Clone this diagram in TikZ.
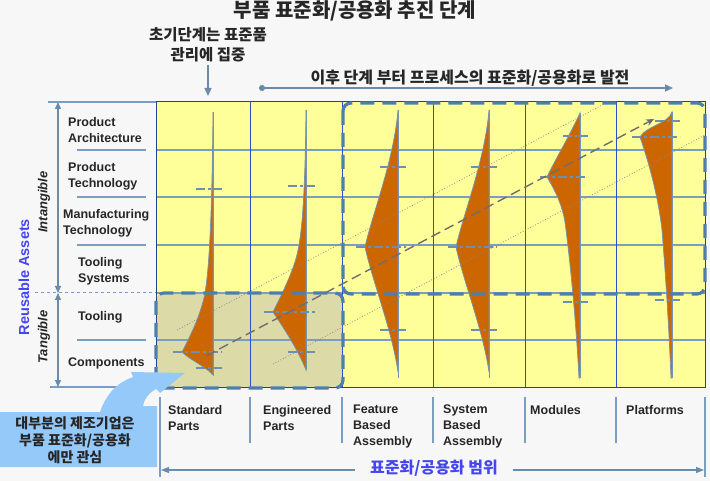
\documentclass[tikz,border=0pt]{standalone}
\usepackage{fontspec}
\setmainfont{Liberation Sans}
\newfontfamily\kr{Noto Sans CJK KR}
\usetikzlibrary{arrows.meta}
\definecolor{bg}{HTML}{F7F7F7}
\definecolor{yel}{HTML}{FFFF99}
\definecolor{tanc}{HTML}{DCDBA8}
\definecolor{rowc}{HTML}{7B9DC2}
\definecolor{colc}{HTML}{2E4FCB}
\definecolor{borderc}{HTML}{2B3F8F}
\definecolor{violinc}{HTML}{CC6600}
\definecolor{edgec}{HTML}{7893AD}
\definecolor{tickc}{HTML}{6D8FB0}
\definecolor{framec}{HTML}{4D7EAC}
\definecolor{trendc}{HTML}{6E6E6E}
\definecolor{guidec}{HTML}{8A8A8A}
\definecolor{arrowc}{HTML}{6B8CA8}
\definecolor{callc}{HTML}{94C9FA}
\definecolor{bluetxt}{HTML}{4646F0}
\begin{document}
\begin{tikzpicture}[x=1pt,y=-1pt,
  lbl/.style={font=\bfseries\fontsize{12.5}{16}\selectfont, align=left, inner sep=0pt, text=black!85},
  collbl/.style={lbl, anchor=north west},
  krtxt/.style={inner sep=0pt, text=black!85},
  rowline/.style={draw=rowc, line width=1.3pt},
  colline/.style={draw=colc, line width=0.9pt},
  violin/.style={fill=violinc, draw=edgec, line width=0.7pt},
  spine/.style={draw=edgec, line width=1pt},
  tickmark/.style={draw=tickc, line width=1.1pt, dash pattern=on 9pt off 3pt on 3pt off 3pt},
  frame/.style={draw=framec, line width=3.2pt, dash pattern=on 14pt off 8pt, rounded corners=8pt},
  guide/.style={draw=guidec, line width=0.8pt, dotted},
  trend/.style={draw=trendc, line width=1.4pt, dash pattern=on 10pt off 5pt, -{Stealth[length=8pt,width=7pt]}},
  sep/.style={draw=rowc, line width=1.2pt},
  pointer/.style={draw=arrowc, line width=1.3pt}
]
\useasboundingbox (0,0) rectangle (710,481);
\fill[bg] (0,0) rectangle (710,481);

% main grid
\fill[yel] (156,102) rectangle (705,387);
\fill[tanc, rounded corners=8pt] (156,293) rectangle (343,388);
\foreach \yy in {150,197,245,293,340} \draw[rowline] (156,\yy) -- (705,\yy);
\foreach \xx in {250,342,433,525,616} \draw[colline] (\xx,102) -- (\xx,387);
\draw[draw=borderc, line width=1pt] (156,102) rectangle (705,387);

% left scale lines
\draw[sep] (48,102) -- (156,102);
\draw[sep] (50,387) -- (156,387);
\foreach \yy in {150,197,245,340} \draw[sep] (77,\yy) -- (146,\yy);
\draw[draw=rowc, line width=1pt, dashed] (35,293) -- (156,293);
\coordinate (iA) at (58,102);
\coordinate (iB) at (58,293);
\coordinate (tB) at (58,387);
\draw[pointer, {Triangle[length=7pt,width=6pt]}-{Triangle[length=7pt,width=6pt]}] (iA) -- (iB);
\draw[pointer, {Triangle[length=7pt,width=6pt]}-{Triangle[length=7pt,width=6pt]}] (iB) -- (tB);

% violins
\draw[violin] (213,112) .. controls (212,220) and (209,275) .. (204,298) .. controls (198,322) and (188,340) .. (182,352) .. controls (190,360) and (205,366) .. (213,375) -- cycle;
\draw[spine] (213,112) -- (213,376);
\draw[violin] (306,110) .. controls (305,200) and (302,240) .. (295,262) .. controls (289,280) and (280,298) .. (273,312) .. controls (285,330) and (298,350) .. (306,370) -- cycle;
\draw[spine] (306,110) -- (306,370);
\draw[violin] (398,110) .. controls (394,160) and (372,215) .. (365,247) .. controls (372,280) and (392,330) .. (398,372) -- cycle;
\draw[spine] (398,110) -- (398,378);
\draw[violin] (489,110) .. controls (485,160) and (463,215) .. (456,247) .. controls (463,280) and (483,330) .. (489,372) -- cycle;
\draw[spine] (489,110) -- (489,378);
\draw[violin] (580,113) .. controls (570,135) and (555,160) .. (547,177) .. controls (556,192) and (562,205) .. (565,222) .. controls (570,260) and (576,320) .. (579,378) -- (580,378) -- cycle;
\draw[spine] (580,113) -- (580,378);
\draw[violin] (672,112) .. controls (668,124) and (646,126) .. (640,137) .. controls (648,160) and (658,195) .. (662,230) .. controls (666,280) and (669,330) .. (671,378) -- (672,378) -- cycle;
\draw[spine] (672,112) -- (672,378);

% quartile ticks
\foreach \yy/\xa/\xb in {189/196/222, 352/173/222, 368/196/222,
  186/288/315, 312/264/315, 352/288/315,
  167/380/406, 247/356/406, 330/380/406,
  167/471/497, 247/448/497, 330/471/497,
  136/563/588, 177/540/588, 302/563/588,
  121/655/680, 137/632/680, 300/655/680}
  \draw[tickmark] (\xa,\yy) -- (\xb,\yy);

% guide lines and trend
\coordinate (g1a) at (177,330);
\coordinate (g1b) at (608,102);
\coordinate (g2a) at (273,364);
\coordinate (g2b) at (705,135);
\draw[guide] (g1a) -- (g1b);
\draw[guide] (g2a) -- (g2b);
\coordinate (trA) at (206,356);
\coordinate (trB) at (654,119);
\draw[trend] (trA) -- (trB);

% dashed frames
\draw[frame] (156,293) rectangle (343,388);
\draw[frame] (343,103) rectangle (705,294);

% left labels
\node[lbl, anchor=west] (pa) at (68,130) {Product\\Architecture};
\node[lbl, anchor=west] (pt) at (68,176) {Product\\Technology};
\node[lbl, anchor=west] (mt) at (63,223) {Manufacturing\\Technology};
\node[lbl, anchor=west] (ts) at (78,271) {Tooling\\Systems};
\node[lbl, anchor=west] (tl) at (78,317) {Tooling};
\node[lbl, anchor=west] (cp) at (68,363) {Components};
\node[rotate=90, inner sep=0pt, font=\bfseries\itshape\fontsize{13}{15}\selectfont, text=black!85] (intg) at (44,202) {Intangible};
\node[rotate=90, inner sep=0pt, font=\bfseries\itshape\fontsize{13}{15}\selectfont, text=black!85] (tang) at (44,337) {Tangible};
\node[rotate=90, inner sep=0pt, font=\bfseries\fontsize{14.5}{16}\selectfont, text=bluetxt] (ra) at (24,277) {Reusable Assets};

% column labels
\node[collbl] (c1) at (168,405) {Standard\\Parts};
\node[collbl] (c2) at (263,405) {Engineered\\Parts};
\node[collbl] (c3) at (353,405) {Feature\\Based\\Assembly};
\node[collbl] (c4) at (443,405) {System\\Based\\Assembly};
\node[collbl] (c5) at (530,405) {Modules};
\node[collbl] (c6) at (626,405) {Platforms};
\draw[sep] (160,397) -- (160,477);
\foreach \xx in {250,342,433,525,616} \draw[sep] (\xx,397) -- (\xx,443);
\draw[sep] (705,397) -- (705,477);

% bottom scope arrow
\node[krtxt, font=\kr\bfseries\fontsize{16}{18}\selectfont, text=bluetxt, fill=bg, inner xsep=15pt] (scope) at (434,468) {표준화/공용화 범위};
\coordinate (sL) at (161,470);
\coordinate (sR) at (704,470);
\draw[pointer, -{Triangle[length=8pt,width=6pt]}] (scope.west |- sL) -- (sL);
\draw[pointer, -{Triangle[length=8pt,width=6pt]}] (scope.east |- sR) -- (sR);

% title and top notes
\node[krtxt, font=\kr\bfseries\fontsize{20}{22}\selectfont] (title) at (355,11) {부품 표준화/공용화 추진 단계};
\node[krtxt, align=center, font=\kr\bfseries\fontsize{15.5}{20}\selectfont] (note) at (208,45) {초기단계는 표준품\\관리에 집중};
\coordinate (noteTip) at (208,96);
\draw[pointer, shorten <=3pt, -{Triangle[length=8pt,width=7pt]}] (note.south) -- (noteTip);
\node[krtxt, font=\kr\bfseries\fontsize{16}{18}\selectfont] (later) at (470,78) {이후 단계 부터 프로세스의 표준화/공용화로 발전};
\coordinate (dS) at (259,88);
\coordinate (dE) at (673,88);
\draw[pointer, {Circle[length=6pt]}-{Triangle[length=8pt,width=7pt]}] (dS) -- (dE);

% callout
\fill[callc] (0,412) -- (100,412) .. controls (106,394) and (118,382) .. (133,377) -- (131,372) -- (185,373) -- (160,393) -- (156,389) .. controls (149,393) and (144,399) .. (143,406) -- (157,406) -- (157,467) -- (0,467) -- cycle;
\node[krtxt, align=center, font=\kr\bfseries\fontsize{14}{17}\selectfont] (call) at (75,440) {대부분의 제조기업은\\부품 표준화/공용화\\에만 관심};
\end{tikzpicture}
\end{document}
